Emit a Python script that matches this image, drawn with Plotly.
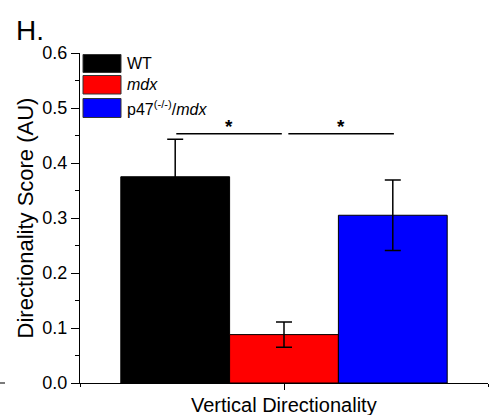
import plotly.graph_objects as go

# ---- data ----
groups = ["WT", "mdx", "p47(-/-)/mdx"]
legend_labels = ["WT", "<i>mdx</i>", "p47<sup>(-/-)</sup>/<i>mdx</i>"]
means = [0.375, 0.088, 0.305]
errors = [0.068, 0.023, 0.064]
colors = ["#000000", "#ff0000", "#0000ff"]
category_label = "Vertical Directionality"
y_ticks = [0.0, 0.1, 0.2, 0.3, 0.4, 0.5, 0.6]
sig_pairs = [(0, 1), (1, 2)]
sig_labels = ["*", "*"]
sig_level = 0.453

positions = [-1, 0, 1]
FONT = "Arial, Liberation Sans, sans-serif"

fig = go.Figure()
fig.add_trace(go.Bar(
    x=positions, y=means, width=1.0,
    marker=dict(color=colors, line=dict(color="#000000", width=1)),
    error_y=dict(type="data", array=errors, visible=True,
                 color="#000000", thickness=1.5, width=8),
    showlegend=False,
))

XR = 1.875
shapes = []
annotations = []

# significance bars
for (a, b), lab in zip(sig_pairs, sig_labels):
    x0 = positions[a] + (0.01 if a == 0 else 0.04)
    x1 = positions[b] - (0.02 if a == 0 else -0.01)
    shapes.append(dict(type="line", xref="x", yref="y", x0=x0, x1=x1,
                       y0=sig_level, y1=sig_level,
                       line=dict(color="#000000", width=1.5)))
    annotations.append(dict(x=(x0 + x1) / 2, y=sig_level, xref="x", yref="y",
                            text="<b>%s</b>" % lab, showarrow=False,
                            yanchor="bottom", yshift=-5,
                            font=dict(family=FONT, size=19, color="#000000")))

# manual legend (pixel-placed)
W, H = 489, 415
L, T, B = 80, 53, 32
pw = W - L - 1
ph = H - T - B
def px(x):
    return (x - L) / pw
def py(y):
    return (H - B - y) / ph

box_rows = [(54.5, 72.5), (75.5, 94), (98.5, 117.5)]
for (y0, y1), c, lab in zip(box_rows, colors, legend_labels):
    shapes.append(dict(type="rect", xref="paper", yref="paper",
                       x0=px(83), x1=px(121), y0=py(y1), y1=py(y0),
                       fillcolor=c, line=dict(color="#333333", width=1)))
    annotations.append(dict(x=px(125), y=py((y0 + y1) / 2), xref="paper", yref="paper",
                            text=lab, showarrow=False, xanchor="left", yanchor="middle",
                            font=dict(family=FONT, size=16, color="#000000")))

# small stray dash at far left
shapes.append(dict(type="line", xref="paper", yref="paper",
                   x0=px(0), x1=px(5), y0=py(383), y1=py(383),
                   line=dict(color="#333333", width=1.3)))

# panel letter
annotations.append(dict(x=px(14), y=py(13), xref="paper", yref="paper",
                        text="H.", showarrow=False, xanchor="left", yanchor="top",
                        font=dict(family=FONT, size=28, color="#000000")))

# category label under the axis
annotations.append(dict(x=0, y=py(392), xref="x", yref="paper",
                        text=category_label, showarrow=False,
                        xanchor="center", yanchor="top",
                        font=dict(family=FONT, size=20, color="#000000")))

fig.update_layout(
    width=W, height=H,
    margin=dict(l=L, r=1, t=T, b=B, pad=0),
    paper_bgcolor="white", plot_bgcolor="white",
    font=dict(family=FONT, color="#000000"),
    shapes=shapes, annotations=annotations,
    showlegend=False,
    xaxis=dict(range=[-XR, XR], showgrid=False, zeroline=False, automargin=False,
               showline=True, linecolor="#000000", linewidth=1.3,
               ticks="outside", ticklen=6, tickwidth=1.3, tickcolor="#000000",
               tickmode="array", tickvals=[0], showticklabels=False,
               minor=dict(tickmode="array", tickvals=[-XR, XR], ticks="outside",
                          ticklen=3, tickwidth=1.3, tickcolor="#000000")),
    yaxis=dict(range=[0, 0.6], showgrid=False, zeroline=False, automargin=False,
               showline=True, linecolor="#000000", linewidth=1.3,
               ticks="outside", ticklen=8, tickwidth=1.3, tickcolor="#000000",
               tickmode="array", tickvals=y_ticks,
               tickformat=".1f", tickfont=dict(family=FONT, size=18),
               minor=dict(dtick=0.05, ticks="outside", ticklen=4,
                          tickwidth=1.3, tickcolor="#000000"),
               title=dict(text="Directionality Score (AU)", standoff=2,
                          font=dict(family=FONT, size=22))),
)

fig.write_html("out.html", config={"displayModeBar": False},
               post_script="document.body.style.margin='0px';document.body.style.overflow='hidden';")
